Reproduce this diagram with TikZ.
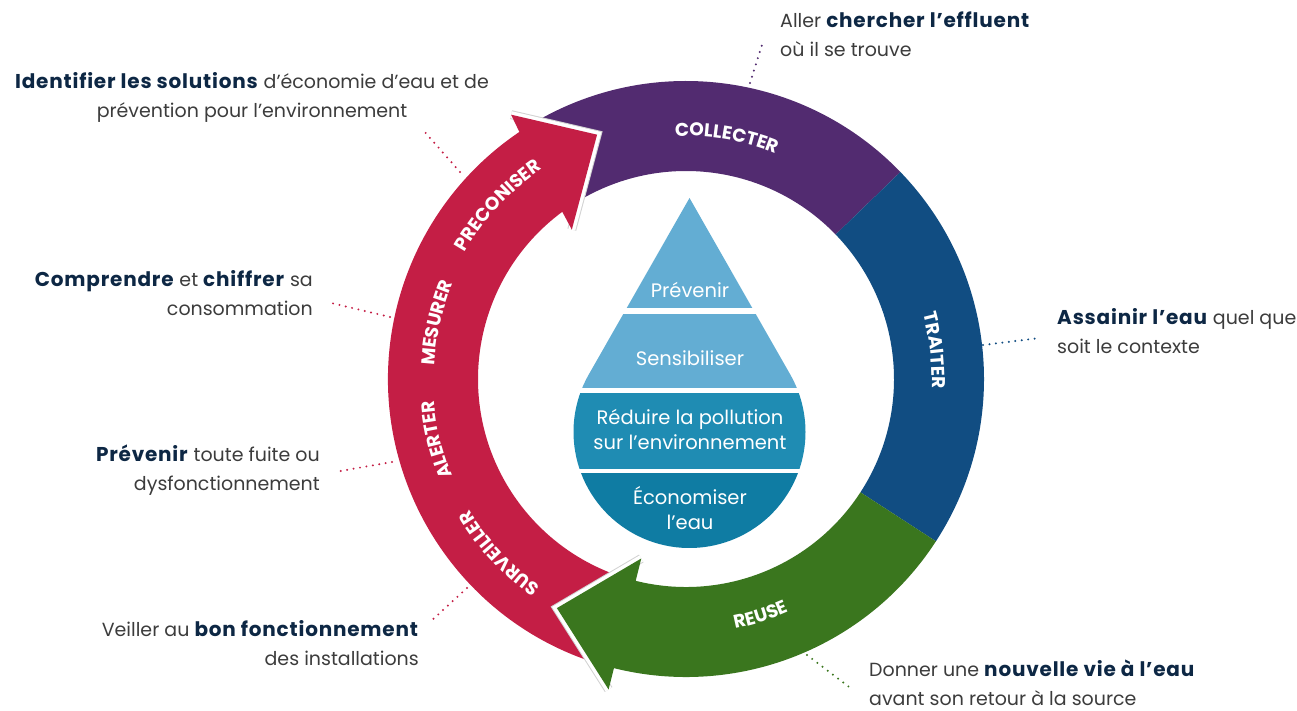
\documentclass[tikz,border=0pt]{standalone}
\usepackage{fontspec}
\setmainfont{Poppins}
\usetikzlibrary{decorations.text,calc}
\definecolor{cpurple}{HTML}{522B70}
\definecolor{cblue}{HTML}{114D82}
\definecolor{cgreen}{HTML}{3A761E}
\definecolor{cred}{HTML}{C41E45}
\definecolor{clight}{HTML}{63ADD3}
\definecolor{cmid}{HTML}{1F8CB3}
\definecolor{cdark}{HTML}{0F7CA3}
\definecolor{navy}{HTML}{0D2744}
\definecolor{txt}{HTML}{3C3C3C}
\newcommand\mystrut{\rule{0pt}{15pt}}
\newcommand\bword[1]{\textcolor{navy}{\textbf{\fontsize{20}{29}\selectfont\addfontfeatures{LetterSpace=4}#1}}}
\newcommand\bandfont{\bfseries\fontsize{18.5}{18.5}\selectfont}
\begin{document}
\begin{tikzpicture}[x=1pt,y=1pt,
  dotline/.style={line width=2.2pt, dash pattern=on 0pt off 6.5pt, line cap=round},
  headrim/.style={draw=gray!35, line width=1pt, double=white, double distance=7pt, line join=miter},
  lbl/.style={font=\fontsize{19}{29}\selectfont, text=txt, inner sep=0pt},
  droptxt/.style={text=white, font=\fontsize{19.5}{25}\selectfont, align=center, inner sep=0pt},
  bandlabel/.style={decorate, decoration={text along path, text align=center, text color=white, text={#1}}}
]
\useasboundingbox (0,0) rectangle (1297,710);

% ---------------- ring ----------------
\begin{scope}[shift={(686,331)}]
  \fill[cpurple] (44:298) arc[start angle=44,end angle=121,radius=298] -- (121:208) arc[start angle=121,end angle=44,radius=208] -- cycle;
  \fill[cblue] (-33:298) arc[start angle=-33,end angle=44,radius=298] -- (44:208) arc[start angle=44,end angle=-33,radius=208] -- cycle;
  % red arrow
  \draw[headrim] (123.5:317) -- (110:260) -- (127.4:188);
  \fill[cred] (254:298) arc[start angle=254,end angle=124,radius=298] -- (123.5:317) -- (110:260) -- (127.4:188) -- (126.5:208) arc[start angle=126.5,end angle=254,radius=208] -- cycle;
  % green arrow
  \draw[headrim] (-104:320) -- (-119.4:263) -- (-104:185);
  \fill[cgreen] (-33:298) arc[start angle=-33,end angle=-104,radius=298] -- (-104:320) -- (-119.4:263) -- (-104:185) -- (-104:208) arc[start angle=-104,end angle=-33,radius=208] -- cycle;

  % band labels
  \path[bandlabel={|\bandfont|COLLECTER}] (110.4:243) arc[start angle=110.4,end angle=50.4,radius=243];
  \path[bandlabel={|\bandfont|TRAITER}] (36.6:246) arc[start angle=36.6,end angle=-23.4,radius=246];
  \path[bandlabel={|\bandfont|REUSE}] (-102.5:254.5) arc[start angle=-102.5,end angle=-42.5,radius=254.5];
  \path[bandlabel={|\bandfont|PRECONISER}] (167.3:254.5) arc[start angle=167.3,end angle=107.3,radius=254.5];
  \path[bandlabel={|\bandfont|MESURER}] (197.3:252) arc[start angle=197.3,end angle=137.3,radius=252];
  \path[bandlabel={|\bandfont|ALERTER}] (223.7:253) arc[start angle=223.7,end angle=163.7,radius=253];
  \path[bandlabel={|\bandfont|SURVEILLER}] (253:253) arc[start angle=253,end angle=193,radius=253];
\end{scope}

% ---------------- drop ----------------
\begin{scope}[shift={(689.5,278)}]
  \begin{scope}
    \clip (-150,124) rectangle (150,240);
    \fill[clight] (0,234) -- (150.3:116) arc[start angle=150.3,end angle=389.7,radius=116] -- cycle;
  \end{scope}
  \begin{scope}
    \clip (-150,44) rectangle (150,117);
    \fill[clight] (0,234) -- (150.3:116) arc[start angle=150.3,end angle=389.7,radius=116] -- cycle;
  \end{scope}
  \begin{scope}
    \clip (-150,-36) rectangle (150,38);
    \fill[cmid] (0,234) -- (150.3:116) arc[start angle=150.3,end angle=389.7,radius=116] -- cycle;
  \end{scope}
  \begin{scope}
    \clip (-150,-120) rectangle (150,-41);
    \fill[cdark] (0,234) -- (150.3:116) arc[start angle=150.3,end angle=389.7,radius=116] -- cycle;
  \end{scope}
\end{scope}
\node[droptxt] (p1) at (690,420) {Prévenir};
\node[droptxt] (p2) at (690,352) {Sensibiliser};
\node[droptxt] (p3) at (690,281) {Réduire la pollution\\sur l’environnement};
\node[droptxt] (p4) at (690,202) {Économiser\\l’eau};

% ---------------- side texts ----------------
\node[lbl, anchor=north, align=center] (tsol) at (252,638) {\mystrut\bword{Identifier les solutions} d’économie d’eau et de\\prévention pour l’environnement};
\node[lbl, anchor=north west, align=left] (tcol) at (780,698) {\mystrut Aller \bword{chercher l’effluent}\\où il se trouve};
\node[lbl, anchor=north west, align=left] (ttra) at (1057,402) {\mystrut\bword{Assainir l’eau} quel que\\soit le contexte};
\node[lbl, anchor=north east, align=right] (tmes) at (313,440) {\mystrut\bword{Comprendre} et \bword{chiffrer} sa\\consommation};
\node[lbl, anchor=north east, align=right] (tale) at (320,265) {\mystrut\bword{Prévenir} toute fuite ou\\dysfonctionnement};
\node[lbl, anchor=north east, align=right] (tsur) at (419,90) {\mystrut Veiller au \bword{bon fonctionnement}\\des installations};
\node[lbl, anchor=north west, align=left] (treu) at (869,50) {\mystrut Donner une \bword{nouvelle vie à l’eau}\\avant son retour à la source};

% ---------------- dotted connectors ----------------
\coordinate (c1a) at (750,627); \coordinate (c1b) at (762,665);
\coordinate (c2a) at (983,365); \coordinate (c2b) at (1040,372);
\coordinate (c3a) at (807,55);  \coordinate (c3b) at (853,20);
\coordinate (c4a) at (460,538); \coordinate (c4b) at (423,580);
\coordinate (c5a) at (390,393); \coordinate (c5b) at (327,408);
\coordinate (c6a) at (392,248); \coordinate (c6b) at (335,238);
\coordinate (c7a) at (467,122); \coordinate (c7b) at (430,88);
\draw[dotline, cpurple] (c1a) -- (c1b);
\draw[dotline, cblue] (c2a) -- (c2b);
\draw[dotline, cgreen] (c3a) -- (c3b);
\draw[dotline, cred] (c4a) -- (c4b);
\draw[dotline, cred] (c5a) -- (c5b);
\draw[dotline, cred] (c6a) -- (c6b);
\draw[dotline, cred] (c7a) -- (c7b);
\end{tikzpicture}
\end{document}
